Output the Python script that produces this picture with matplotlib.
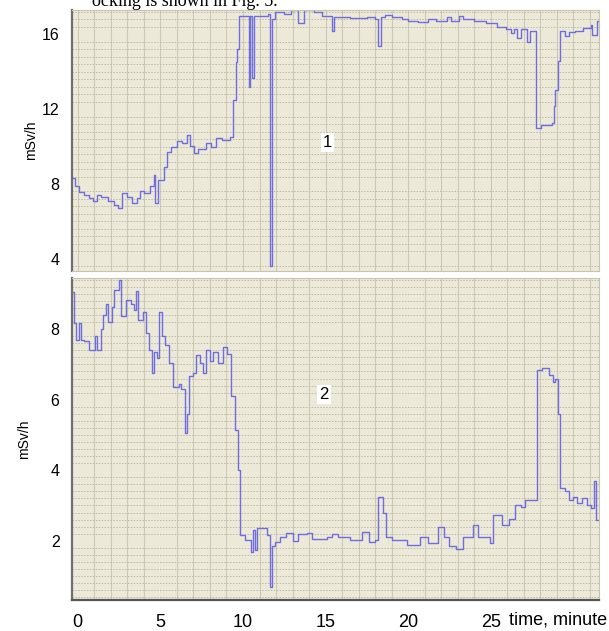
import numpy as np
import matplotlib.pyplot as plt
from matplotlib.ticker import MultipleLocator

plt.rcParams['font.family'] = ['Liberation Sans', 'DejaVu Sans']

# panel 1: time (min) where each level starts, dose rate (mSv/h)
t1 = [-0.3, -0.15, 0.1, 0.35, 0.7, 0.95, 1.15, 1.4, 1.8, 2.2, 2.45, 2.7, 3.0, 3.3, 3.6,
      3.75, 4.0, 4.35, 4.6, 4.7, 4.85, 5.2, 5.4, 5.65, 6.0, 6.3, 6.6, 6.8, 7.05, 7.3,
      7.75, 8.05, 8.35, 8.7, 9.2, 9.4, 9.55, 9.65, 9.75, 10.35, 10.45, 10.55, 10.65,
      11.5, 11.65, 11.78, 11.95, 12.5, 12.9, 13.35, 13.7, 14.3, 14.8, 15.4, 15.5, 16.5,
      17.5, 18.0, 18.2, 18.35, 18.6, 19.0, 19.6, 20.0, 20.6, 21.2, 21.7, 22.35, 22.6,
      23.05, 23.3, 24.0, 24.7, 25.4, 25.9, 26.2, 26.4, 26.6, 26.8, 27.2, 27.4, 27.76,
      28.05, 28.7, 28.8, 28.9, 29.05, 29.2, 29.5, 29.75, 30.1, 30.6, 31.05, 31.15, 31.4,
      31.5]
v1 = [8.3, 7.9, 7.55, 7.4, 7.25, 7.1, 7.4, 7.3, 7.1, 6.9, 6.7, 7.5, 7.3, 7.0, 7.25,
      7.6, 7.5, 7.9, 8.5, 7.0, 8.2, 8.9, 9.7, 10.0, 10.3, 10.2, 10.6, 10.05, 9.65, 9.85,
      10.2, 10.0, 10.45, 10.35, 10.5, 12.5, 14.5, 15.2, 17.0, 13.2, 17.0, 13.65, 17.0,
      17.1, 3.6, 16.8, 17.2, 17.1, 17.3, 16.6, 17.3, 17.2, 17.0, 16.2, 16.95, 16.85,
      16.95, 16.8, 15.4, 16.9, 17.05, 16.9, 16.8, 16.7, 16.65, 16.8, 16.7, 16.9, 16.7,
      17.0, 16.8, 16.7, 16.6, 16.4, 16.3, 16.05, 16.3, 15.8, 16.3, 15.6, 16.2, 11.0,
      11.15, 11.25, 12.15, 13.0, 14.55, 16.2, 15.9, 16.1, 16.2, 16.35, 16.5, 15.95, 16.7,
      16.7]

# panel 2
t2 = [-0.3, -0.22, -0.12, 0.07, 0.18, 0.35, 0.7, 1.06, 1.18, 1.4, 1.5, 1.7, 1.85, 2.1,
      2.2, 2.47, 2.64, 2.94, 3.2, 3.4, 3.5, 3.65, 3.95, 4.1, 4.3, 4.47, 4.63, 4.8, 4.94,
      5.1, 5.3, 5.5, 5.76, 6.1, 6.25, 6.47, 6.64, 6.75, 6.95, 7.18, 7.4, 7.58, 7.76, 8.0,
      8.2, 8.5, 8.8, 9.06, 9.3, 9.53, 9.7, 9.83, 10.1, 10.47, 10.6, 10.7, 10.87, 11.48,
      11.65, 11.78, 11.93, 12.25, 12.6, 13.0, 13.3, 13.9, 14.2, 15.06, 15.4, 15.76, 16.5,
      17.2, 17.6, 18.0, 18.17, 18.47, 18.66, 19.0, 19.9, 20.7, 21.2, 21.8, 22.15, 22.5,
      22.9, 23.3, 23.9, 24.2, 24.6, 24.94, 25.13, 25.65, 26.1, 26.47, 26.8, 27.06, 27.8,
      28.1, 28.5, 28.75, 28.9, 29.06, 29.2, 29.5, 29.76, 30.0, 30.2, 30.5, 30.8, 31.05,
      31.25, 31.35, 31.5]
v2 = [9.05, 8.17, 7.7, 8.17, 7.7, 7.65, 7.41, 7.8, 7.41, 8.0, 8.4, 8.7, 8.2, 8.64,
      9.1, 9.4, 8.36, 8.83, 8.7, 8.55, 9.07, 8.26, 8.5, 7.9, 7.41, 6.75, 7.35, 7.18, 8.5,
      7.8, 7.55, 7.03, 6.37, 6.45, 6.3, 5.05, 5.6, 6.66, 6.75, 7.27, 7.03, 6.75, 7.41, 7.1,
      7.35, 7.03, 7.5, 7.3, 6.1, 5.14, 4.0, 2.16, 2.02, 1.69, 2.3, 1.75, 2.35, 2.16,
      0.7, 1.85, 1.97, 2.1, 2.21, 2.0, 2.2, 2.21, 2.05, 2.12, 2.2, 2.12, 2.02,
      2.25, 1.97, 2.02, 3.25, 2.78, 2.12, 2.02, 1.88, 2.12, 1.93, 2.4, 2.12, 1.84,
      1.78, 2.12, 2.45, 2.12, 2.12, 1.93, 2.73, 2.45, 2.63, 3.0, 2.95, 3.16, 6.85,
      6.9, 6.7, 6.5, 6.6, 5.6, 3.5, 3.4, 3.16, 3.25, 3.06, 3.2, 3.0, 2.92,
      3.68, 2.6, 2.6]

bg = '#ECE9D8'
line_c = '#6E6EE0'

fig = plt.figure(figsize=(6.09, 6.31), dpi=100)
W, H = 609, 631

def make_ax(top, bottom):
    ax = fig.add_axes([72 / W, 1 - bottom / H, (599 - 72) / W, (bottom - top) / H])
    ax.set_facecolor(bg)
    return ax

def style(ax, ylim, ymin_step, yticks):
    ax.set_xlim(-0.35, 31.55)
    ax.set_ylim(*ylim)
    ax.xaxis.set_minor_locator(MultipleLocator(1))
    ax.yaxis.set_minor_locator(MultipleLocator(ymin_step))
    ax.grid(which='minor', axis='x', color='#CDC9B5', lw=0.8)
    ax.grid(which='minor', axis='y', color='#BDB9A6', lw=0.7, ls=(0, (1.5, 1.5)))
    ax.set_yticks(yticks)
    ax.tick_params(which='both', length=0)
    ax.tick_params(axis='y', labelsize=11.5, pad=9)
    ax.set_axisbelow(True)
    for s in ['top', 'right']:
        ax.spines[s].set_color('#C8C4B0')
    ax.spines['left'].set_color('#6E6E6E')
    ax.spines['left'].set_linewidth(1.6)

ax1 = make_ax(10, 271)
style(ax1, (3.35, 17.3), 0.4, [4, 8, 12, 16])
ax1.spines['bottom'].set_color('#C8C4B0')
ax1.set_xticks([])
ax1.step(t1, v1, where='post', color=line_c, lw=1.0)
ax1.set_ylabel('mSv/h', fontsize=10, labelpad=3)
ax1.text(15.1, 10.2, '1', fontsize=12, ha='center', va='center',
         bbox=dict(facecolor='white', edgecolor='none', pad=1.5))

ax2 = make_ax(278, 600)
style(ax2, (0.32, 9.45), 0.2, [2, 4, 6, 8])
ax2.spines['bottom'].set_color('#555555')
ax2.spines['bottom'].set_linewidth(1.6)
ax2.step(t2, v2, where='post', color=line_c, lw=1.0)
ax2.set_ylabel('mSv/h', fontsize=10, labelpad=14)
ax2.set_xticks([0, 5, 10, 15, 20, 25])
ax2.tick_params(axis='x', labelsize=13, pad=10)
ax2.text(14.9, 6.15, '2', fontsize=12, ha='center', va='center',
         bbox=dict(facecolor='white', edgecolor='none', pad=1.5))

fig.text(607 / W, 1 - 620 / H, 'time, minute', fontsize=13, ha='right', va='center')
fig.text(92 / W, 1 - 6 / H, 'ocking is shown in Fig. 5.', fontsize=13,
         family='Liberation Serif', ha='left', va='baseline')

fig.savefig('out.png', dpi=100, facecolor='white')
